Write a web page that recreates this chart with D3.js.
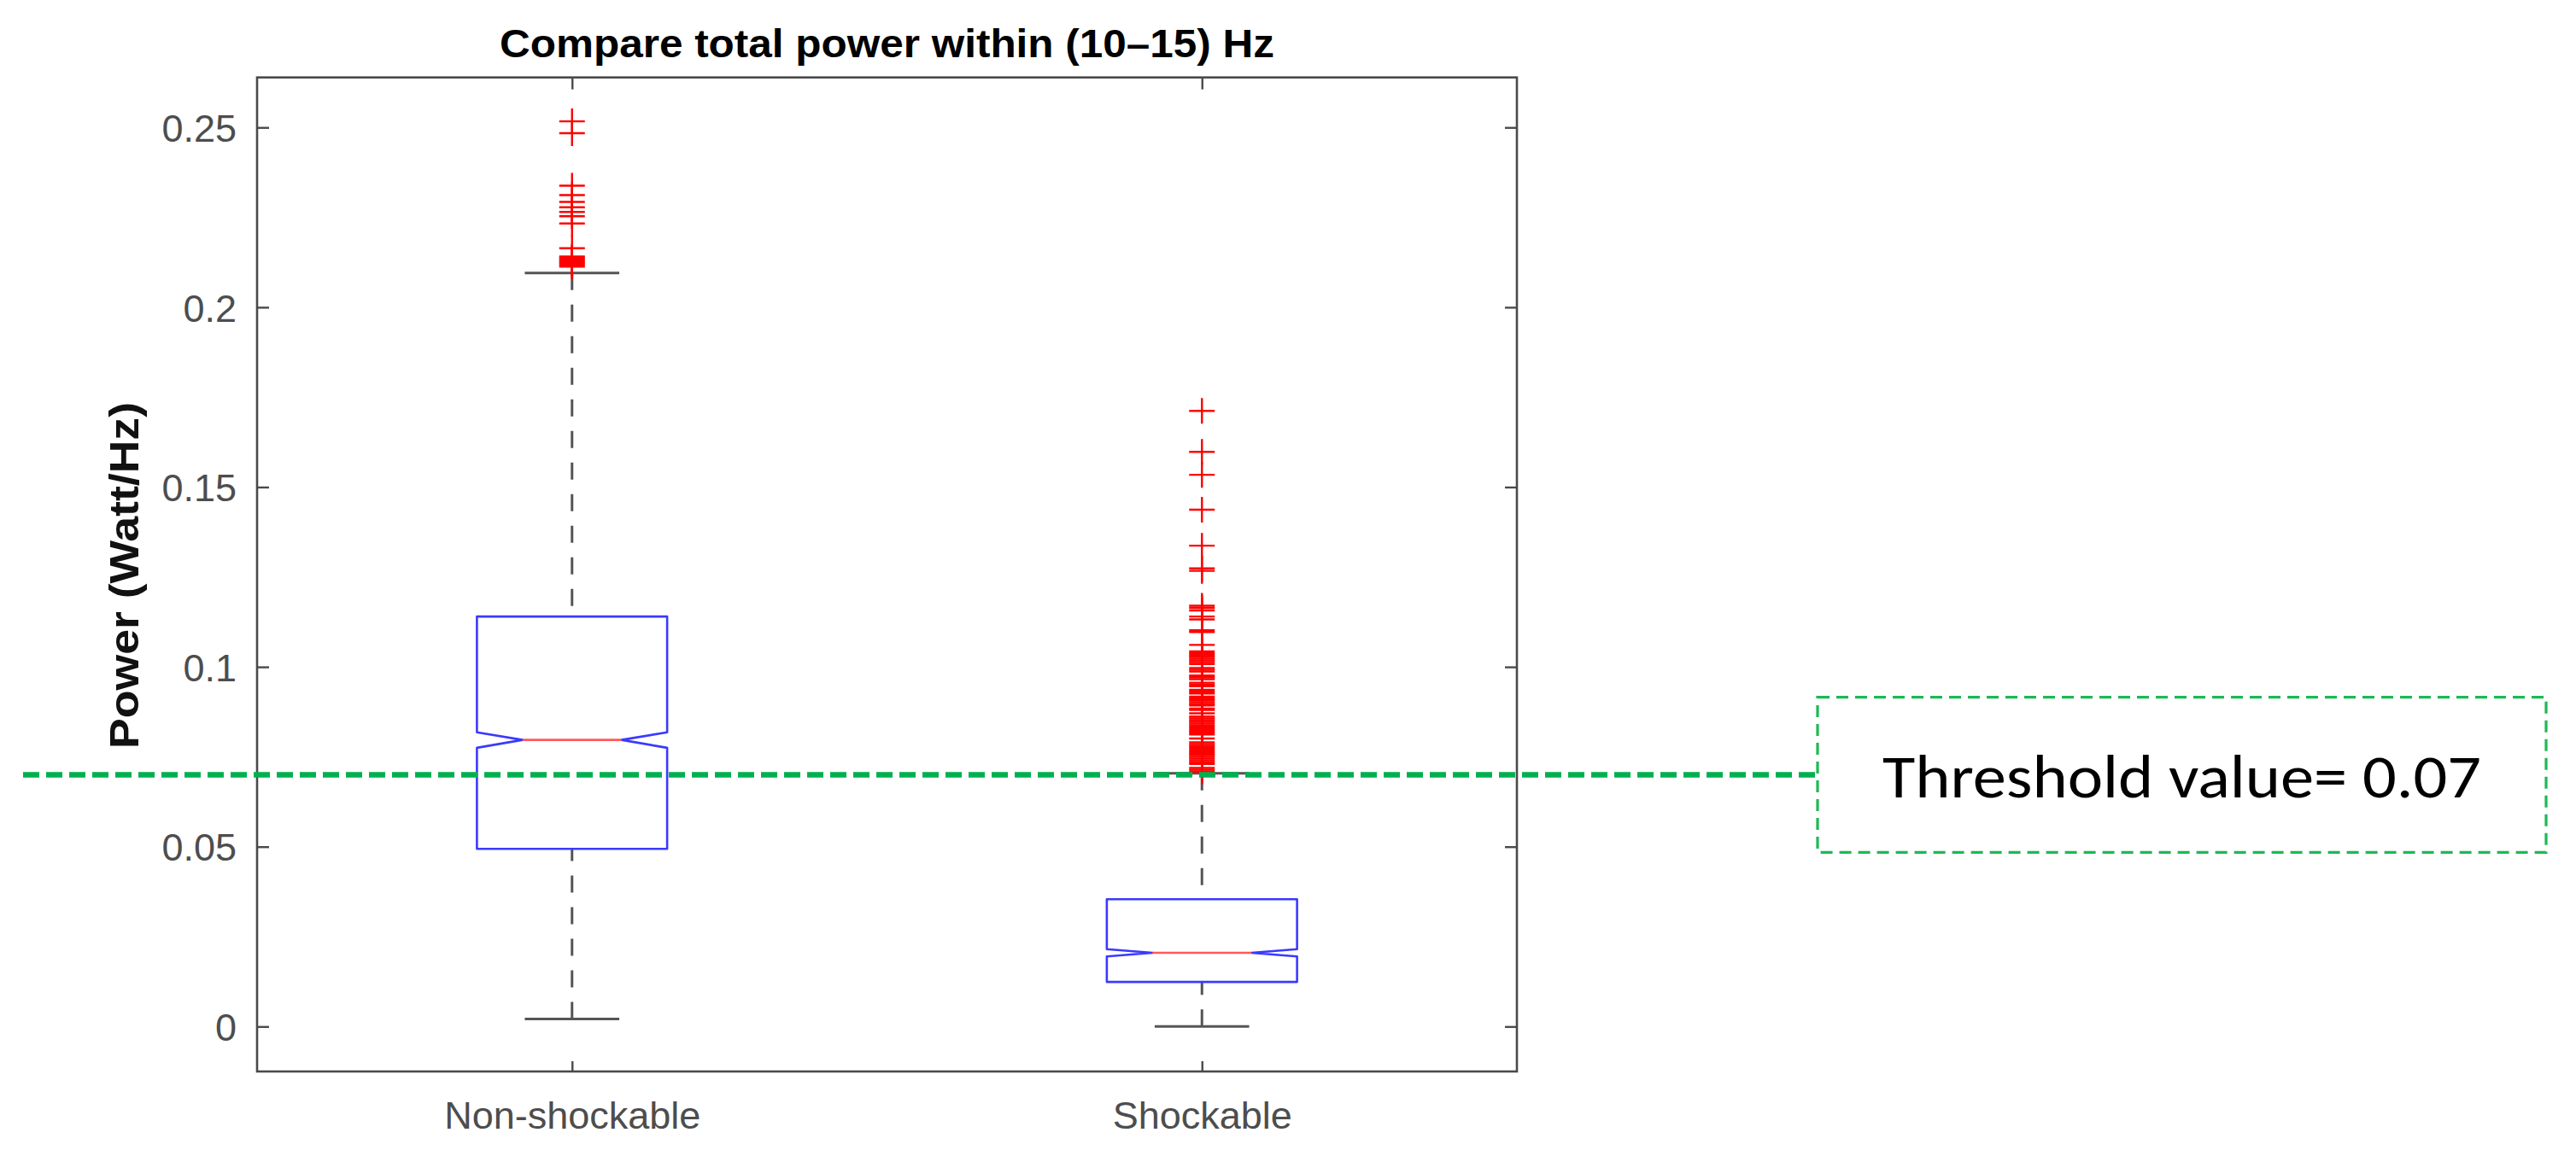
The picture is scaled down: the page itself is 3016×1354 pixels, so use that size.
<!DOCTYPE html>
<html>
<head>
<meta charset="utf-8">
<script src="https://cdn.jsdelivr.net/npm/d3@7"></script>
<style>
  html, body { margin: 0; padding: 0; background: #ffffff; }
  svg { display: block; }
</style>
</head>
<body>
<script>
// ---------------- DATA ----------------
const categories = ["Non-shockable", "Shockable"];
const q1Values = [0.0494, 0.0124];
const medianValues = [0.0797, 0.0205];
const q3Values = [0.1140, 0.0354];
const notchLowValues = [0.0775, 0.0195];
const notchHighValues = [0.0818, 0.0215];
const whiskerLowValues = [0.0021, 0.0000];
const whiskerHighValues = [0.2095, 0.0704];
const outliersNonShockable = [
  0.2517, 0.2484, 0.2338, 0.2312, 0.2293, 0.2278, 0.2265, 0.2253, 0.2233,
  0.2164, 0.2141, 0.2137, 0.2133, 0.2129, 0.2125, 0.2121, 0.2117, 0.2113
];
const outliersShockable = [
  0.1712, 0.1598, 0.1534, 0.1437, 0.1337, 0.1274, 0.1267, 0.1170, 0.1164,
  0.1157, 0.1140, 0.1132, 0.1102, 0.1097, 0.1061,
  0.1043, 0.1038, 0.1033, 0.1028, 0.1023, 0.1018, 0.1013, 0.1008, 0.0997,
  0.0992, 0.0987, 0.0976, 0.0971, 0.0966, 0.0956, 0.0951, 0.0946, 0.0936,
  0.0931, 0.0926, 0.0917, 0.0912, 0.0907, 0.0902, 0.0897, 0.0893, 0.0884,
  0.0880, 0.0871, 0.0862, 0.0857, 0.0852, 0.0847, 0.0842, 0.0837, 0.0832,
  0.0827, 0.0822, 0.0817, 0.0812, 0.0801, 0.0790, 0.0785, 0.0780, 0.0775,
  0.0770, 0.0765, 0.0760, 0.0755, 0.0750, 0.0745, 0.0740, 0.0735, 0.0730,
  0.0719, 0.0714, 0.0709
];
const outliers = [outliersNonShockable, outliersShockable];
const yTickValues = [0, 0.05, 0.1, 0.15, 0.2, 0.25];
const yDomain = [-0.0125, 0.2639];
const thresholdValue = 0.07;
const titleText = "Compare total power within (10\u201315) Hz";
const yLabelText = "Power (Watt/Hz)";
const thresholdText = "Threshold value= 0.07";

// ---------------- LAYOUT ----------------
const W = 3016, H = 1354;
const plot = { left: 301, right: 1776, top: 90.7, bottom: 1255 };

const svg = d3.select("body").append("svg")
  .attr("width", W).attr("height", H)
  .attr("viewBox", `0 0 ${W} ${H}`);
svg.append("rect").attr("width", W).attr("height", H).attr("fill", "#ffffff");

const x = d3.scalePoint().domain(categories)
  .range([plot.left, plot.right]).padding(0.5);
const y = d3.scaleLinear().domain(yDomain).range([plot.bottom, plot.top]);
const step = x.step();
const boxHalf = step * 0.151;
const notchHalf = boxHalf * 0.52;
const capHalf = step * 0.075;

const axisColor = "#4a4a4a";
const tickFont = "'Liberation Sans', Arial, Helvetica, sans-serif";

// axes box
svg.append("rect")
  .attr("x", plot.left).attr("y", plot.top)
  .attr("width", plot.right - plot.left).attr("height", plot.bottom - plot.top)
  .attr("fill", "none").attr("stroke", axisColor).attr("stroke-width", 2.6);

const fmt = d => d === 0 ? "0" : String(+d.toFixed(2));

// left axis
const gL = svg.append("g").attr("transform", `translate(${plot.left},0)`)
  .call(d3.axisLeft(y).tickValues(yTickValues).tickSizeInner(-14).tickSizeOuter(0)
    .tickPadding(24).tickFormat(fmt));
// right axis
const gR = svg.append("g").attr("transform", `translate(${plot.right},0)`)
  .call(d3.axisRight(y).tickValues(yTickValues).tickSizeInner(-14).tickSizeOuter(0)
    .tickFormat(() => ""));
// bottom axis
const gB = svg.append("g").attr("transform", `translate(0,${plot.bottom})`)
  .call(d3.axisBottom(x).tickSizeInner(-12).tickSizeOuter(0));
// top axis
const gT = svg.append("g").attr("transform", `translate(0,${plot.top})`)
  .call(d3.axisTop(x).tickSizeInner(-14).tickSizeOuter(0).tickFormat(() => ""));

[gL, gR, gB, gT].forEach(g => {
  g.select(".domain").remove();
  g.selectAll(".tick line").attr("stroke", axisColor).attr("stroke-width", 2.4);
  g.selectAll("text").attr("font-family", tickFont).attr("font-size", 45)
    .attr("fill", "#4d4d4d");
});
gL.selectAll("text").attr("dy", "0.36em");
gB.selectAll("text").attr("y", 67).attr("dy", 0);

// title
svg.append("text")
  .attr("x", (plot.left + plot.right) / 2).attr("y", 67)
  .attr("text-anchor", "middle")
  .attr("font-family", tickFont).attr("font-weight", "bold")
  .attr("font-size", 46).attr("fill", "#000")
  .attr("textLength", 907).attr("lengthAdjust", "spacingAndGlyphs")
  .text(titleText);

// y label
svg.append("text")
  .attr("transform", `translate(162,674) rotate(-90)`)
  .attr("text-anchor", "middle")
  .attr("font-family", tickFont).attr("font-weight", "bold")
  .attr("font-size", 48).attr("fill", "#111")
  .attr("textLength", 406).attr("lengthAdjust", "spacingAndGlyphs")
  .text(yLabelText);

// ---------------- BOXES ----------------
const idx = d3.range(categories.length);
const gBox = svg.append("g");

// whiskers (dashed)
idx.forEach(i => {
  const cx = x(categories[i]);
  gBox.append("line")
    .attr("x1", cx).attr("x2", cx)
    .attr("y1", y(whiskerHighValues[i])).attr("y2", y(q3Values[i]))
    .attr("stroke", "#555").attr("stroke-width", 3).attr("stroke-dasharray", "20,17");
  gBox.append("line")
    .attr("x1", cx).attr("x2", cx)
    .attr("y1", y(whiskerLowValues[i])).attr("y2", y(q1Values[i]))
    .attr("stroke", "#555").attr("stroke-width", 3).attr("stroke-dasharray", "20,17");
  [whiskerHighValues[i], whiskerLowValues[i]].forEach(v => {
    gBox.append("line")
      .attr("x1", cx - capHalf).attr("x2", cx + capHalf)
      .attr("y1", y(v)).attr("y2", y(v))
      .attr("stroke", "#555").attr("stroke-width", 3);
  });
});

// notched boxes
idx.forEach(i => {
  const cx = x(categories[i]);
  const L = cx - boxHalf, R = cx + boxHalf;
  const p = d3.path();
  p.moveTo(L, y(q1Values[i]));
  p.lineTo(L, y(notchLowValues[i]));
  p.lineTo(cx - notchHalf, y(medianValues[i]));
  p.lineTo(L, y(notchHighValues[i]));
  p.lineTo(L, y(q3Values[i]));
  p.lineTo(R, y(q3Values[i]));
  p.lineTo(R, y(notchHighValues[i]));
  p.lineTo(cx + notchHalf, y(medianValues[i]));
  p.lineTo(R, y(notchLowValues[i]));
  p.lineTo(R, y(q1Values[i]));
  p.closePath();
  gBox.append("path").attr("d", p.toString())
    .attr("fill", "none").attr("stroke", "#3a3aff").attr("stroke-width", 2.6)
    .attr("stroke-linejoin", "round");
  gBox.append("line")
    .attr("x1", cx - notchHalf).attr("x2", cx + notchHalf)
    .attr("y1", y(medianValues[i])).attr("y2", y(medianValues[i]))
    .attr("stroke", "#ff5a5a").attr("stroke-width", 2.6);
});

// outliers
const plus = "M-15,0H15M0,-15V15";
idx.forEach(i => {
  const cx = x(categories[i]);
  gBox.selectAll(null).data(outliers[i]).enter().append("path")
    .attr("d", plus)
    .attr("transform", d => `translate(${cx},${y(d)})`)
    .attr("fill", "none").attr("stroke", "#ff0000").attr("stroke-width", 2.4);
});

// ---------------- THRESHOLD ----------------
const green = "#00b04f";
const boxX = 2128, boxY = 816.7, boxW = 853, boxH = 181.6;
svg.append("line")
  .attr("x1", 27).attr("x2", boxX)
  .attr("y1", y(thresholdValue)).attr("y2", y(thresholdValue))
  .attr("stroke", green).attr("stroke-width", 6.5)
  .attr("stroke-dasharray", "19,8");
svg.append("rect")
  .attr("x", boxX).attr("y", boxY).attr("width", boxW).attr("height", boxH)
  .attr("fill", "#ffffff").attr("stroke", "#1db954").attr("stroke-width", 3.2)
  .attr("stroke-dasharray", "14,8");
svg.append("text")
  .attr("x", boxX + boxW / 2).attr("y", 934)
  .attr("text-anchor", "middle")
  .attr("font-family", "Carlito, Lato, 'Open Sans', sans-serif")
  .attr("font-size", 72).attr("fill", "#000")
  .attr("textLength", 701).attr("lengthAdjust", "spacingAndGlyphs")
  .text(thresholdText);
</script>
</body>
</html>
